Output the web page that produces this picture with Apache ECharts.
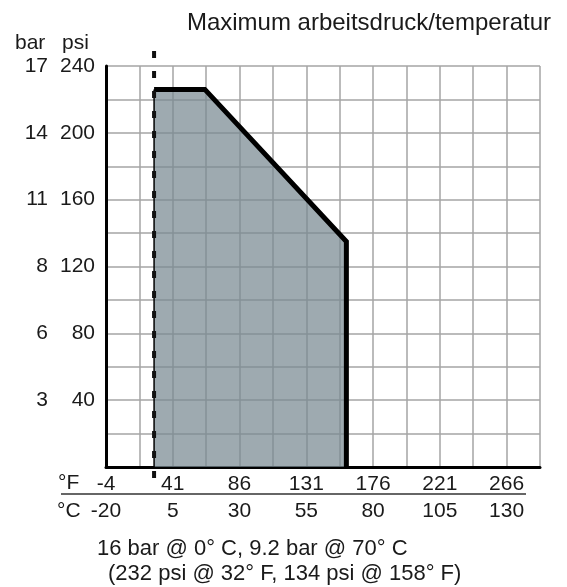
<!DOCTYPE html>
<html>
<head>
<meta charset="utf-8">
<script src="https://cdn.jsdelivr.net/npm/echarts@6/dist/echarts.min.js"></script>
<style>
html,body{margin:0;padding:0;background:#fff;}
#chart{width:567px;height:587px;}
</style>
</head>
<body>
<div id="chart"></div>
<script>
// ---- data ----
const tempC = [-2, -2, 17, 70, 70];          // polygon x (°C)
const pressurePsi = [0, 226, 226, 135, 0];   // polygon y (psi)
const limitLineC = [-2, -2];                 // dashed limit line x
const limitLinePsi = [249, -8];              // dashed limit line y (extends past axes)
const cTicks = [-20, 5, 30, 55, 80, 105, 130];
const fTicks = [-4, 41, 86, 131, 176, 221, 266];
const psiTicks = [40, 80, 120, 160, 200, 240];
const barTicks = ['3', '6', '8', '11', '14', '17'];
const titleText = 'Maximum arbeitsdruck/temperatur';
const note1 = '16 bar @ 0° C, 9.2 bar @ 70° C';
const note2 = '(232 psi @ 32° F, 134 psi @ 158° F)';

const FONT = 'Liberation Sans, Arial, sans-serif';
const TXT = '#1a1a1a';
const GRID = '#a4a4a4';

function near(list, v) {
  for (let i = 0; i < list.length; i++) if (Math.abs(list[i] - v) < 1e-6) return i;
  return -1;
}

const polygon = tempC.map((t, i) => [t, pressurePsi[i]]);
const outline = polygon.slice(1);
const leftEdge = polygon.slice(0, 2);
const limitLine = limitLineC.map((t, i) => [t, limitLinePsi[i]]);

const chart = echarts.init(document.getElementById('chart'), null, {renderer: 'canvas'});
chart.setOption({
  animation: false,
  backgroundColor: '#fff',
  grid: {left: 106, right: 27, top: 66, bottom: 120, containLabel: false},
  xAxis: [{
    type: 'value', position: 'bottom', min: -20, max: 142.5, interval: 12.5,
    axisLine: {show: true, onZero: false, lineStyle: {color: '#000', width: 3}},
    axisTick: {show: false},
    splitLine: {show: true, lineStyle: {color: GRID, width: 1.5}},
    axisLabel: {
      margin: 34, fontSize: 21, color: TXT, fontFamily: FONT,
      showMinLabel: true, showMaxLabel: true,
      formatter: v => { const i = near(cTicks, v); return i >= 0 ? String(cTicks[i]) : ''; }
    }
  }, {
    type: 'value', position: 'bottom', min: -4, max: 288.5, interval: 22.5,
    axisLine: {show: false}, axisTick: {show: false}, splitLine: {show: false},
    axisLabel: {
      margin: 7, fontSize: 21, color: TXT, fontFamily: FONT,
      showMinLabel: true, showMaxLabel: true,
      formatter: v => { const i = near(fTicks, v); return i >= 0 ? String(fTicks[i]) : ''; }
    }
  }],
  yAxis: [{
    type: 'value', position: 'left', min: 0, max: 240, interval: 20,
    axisLine: {show: true, onZero: false, lineStyle: {color: '#000', width: 3}},
    axisTick: {show: false},
    splitLine: {show: true, lineStyle: {color: GRID, width: 1.5}},
    axisLabel: {
      margin: 11, fontSize: 21, color: TXT, fontFamily: FONT,
      formatter: v => { const i = near(psiTicks, v); return i >= 0 ? String(psiTicks[i]) : ''; }
    }
  }, {
    type: 'value', position: 'left', offset: 47, min: 0, max: 240, interval: 20,
    axisLine: {show: false}, axisTick: {show: false}, splitLine: {show: false},
    axisLabel: {
      margin: 11, fontSize: 21, color: TXT, fontFamily: FONT,
      formatter: v => { const i = near(psiTicks, v); return i >= 0 ? barTicks[i] : ''; }
    }
  }],
  series: [{
    type: 'line', name: 'area', data: polygon, symbol: 'none', z: 2,
    lineStyle: {width: 0, opacity: 0},
    areaStyle: {color: 'rgba(120,137,146,0.72)', opacity: 1, origin: 'start'}
  }, {
    type: 'line', name: 'outline', data: outline, symbol: 'none', z: 3,
    lineStyle: {color: '#000', width: 5, join: 'miter', cap: 'butt'}
  }, {
    type: 'line', name: 'leftEdge', data: leftEdge, symbol: 'none', z: 3,
    lineStyle: {color: '#000', width: 1.5}
  }, {
    type: 'line', name: 'limit', data: limitLine, symbol: 'none', z: 4, clip: false,
    lineStyle: {color: '#111', width: 4, type: [7, 13], cap: 'butt'}
  }],
  graphic: [
    {type: 'text', right: 16, top: 11, style: {text: titleText, font: '24px ' + FONT, fill: TXT}},
    {type: 'text', left: 15, top: 33, style: {text: 'bar', font: '21px ' + FONT, fill: TXT}},
    {type: 'text', left: 62, top: 33, style: {text: 'psi', font: '21px ' + FONT, fill: TXT}},
    {type: 'text', left: 58, top: 473, style: {text: '°F', font: '21px ' + FONT, fill: TXT}},
    {type: 'text', left: 57, top: 501, style: {text: '°C', font: '21px ' + FONT, fill: TXT}},
    {type: 'line', shape: {x1: 61, y1: 494, x2: 526, y2: 494}, style: {stroke: '#333', lineWidth: 1.5}},
    {type: 'text', left: 97, top: 538, style: {text: note1, font: '22px ' + FONT, fill: TXT}},
    {type: 'text', left: 108, top: 563, style: {text: note2, font: '22px ' + FONT, fill: TXT}}
  ]
});
</script>
</body>
</html>
